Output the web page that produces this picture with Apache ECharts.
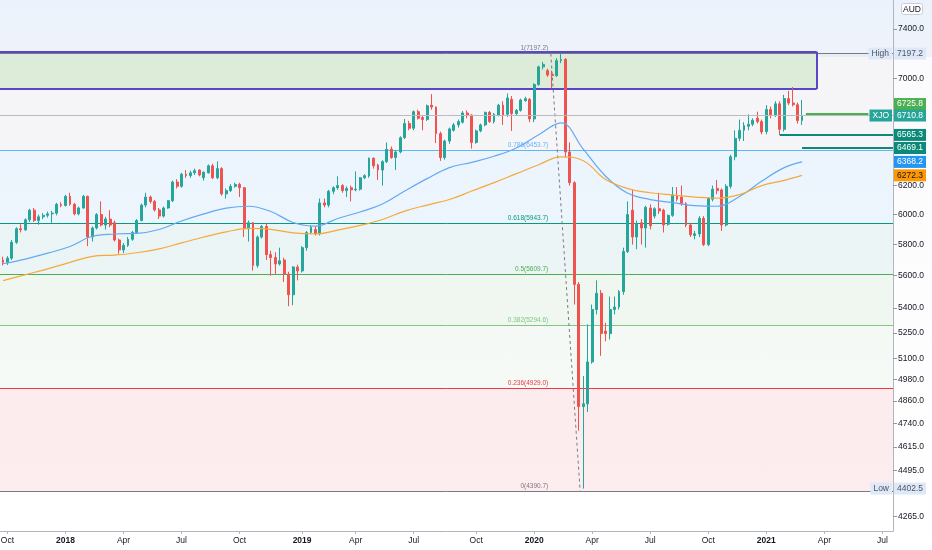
<!DOCTYPE html>
<html><head><meta charset="utf-8">
<script src="https://cdn.jsdelivr.net/npm/echarts@6.0.0/dist/echarts.min.js"></script>
<style>html,body{margin:0;padding:0;background:#fff;}#c{width:932px;height:550px;background:linear-gradient(to bottom,#ecf2fb 0px,#eef3fb 57px,#fbfbfd 57px,#ffffff 550px);}</style>
</head><body><div id="c"></div><script>
// ---- data (weekly XJO, AUD) ----
const firstWeek = '2017-09-25';
const weekOpen = [
5700,5685,5712,5815,5905,5898,5965,6030,5960,5985,
5995,6005,6010,6070,6062,6125,6070,6005,6045,6125,
5850,5910,6000,5930,5970,5945,5830,5765,5795,5835,
5880,5960,6065,6120,6090,6032,5990,6045,6095,6225,
6195,6280,6270,6290,6310,6255,6290,6340,6255,6320,
6142,6165,6195,6208,6185,5905,5945,5665,5850,5920,
5735,5716,5675,5700,5610,5480,5655,5630,5780,5880,
5900,5872,6080,6065,6160,6185,6200,6165,6185,6170,
6175,6255,6268,6395,6345,6310,6370,6460,6400,6440,
6545,6650,6615,6740,6695,6680,6790,6775,6575,6400,
6520,6600,6640,6660,6730,6715,6510,6595,6640,6735,
6665,6715,6790,6720,6835,6725,6750,6825,6835,6685,
6950,7090,7060,7030,7020,7140,7150,6440,6220,5545,
4830,4845,5080,5390,5490,5260,5245,5390,5405,5500,
5755,6030,5850,5945,5910,6045,5990,6040,6030,5935,
5995,6130,6120,6075,5930,5860,5870,5975,5800,6105,
6180,6170,5930,6195,6405,6540,6600,6630,6645,6690,
6665,6590,6757,6715,6800,6607,6840,6806,6793,6673];
const weekHigh = [
5722,5725,5830,5915,5935,5975,6040,6045,6000,6010,
6020,6025,6080,6085,6135,6150,6080,6055,6135,6130,
5920,6010,6090,5985,6030,5960,5840,5810,5850,5890,
5970,6075,6150,6130,6100,6045,6055,6100,6235,6245,
6290,6310,6305,6320,6315,6300,6350,6355,6372,6330,
6180,6210,6220,6220,6190,5960,5950,5860,5930,5945,
5760,5750,5780,5715,5625,5660,5670,5790,5890,5930,
5920,6110,6110,6170,6195,6265,6210,6195,6200,6300,
6260,6280,6400,6400,6355,6380,6510,6480,6455,6555,
6685,6670,6750,6755,6710,6795,6875,6780,6590,6530,
6620,6655,6680,6745,6750,6720,6605,6650,6740,6745,
6730,6800,6820,6880,6860,6760,6840,6855,6845,6960,
7100,7130,7075,7060,7160,7197.2,7160,6510,6230,5560,
5000,5300,5420,5570,5510,5310,5470,5470,5510,5780,
6090,6170,5960,5970,6060,6070,6050,6150,6040,6000,
6190,6190,6200,6085,5945,5890,5990,5990,6120,6200,
6240,6180,6210,6420,6600,6680,6660,6720,6690,6740,
6680,6790,6780,6820,6820,6870,6900,6930,6810,6830];
const weekLow = [
5665,5668,5700,5805,5880,5890,5950,5950,5932,5970,
5980,5945,5995,6050,6055,6060,5995,5995,6040,5790,
5820,5900,5920,5900,5915,5820,5740,5745,5785,5825,
5870,5955,6050,6075,6020,5970,5980,6040,6085,6180,
6185,6255,6255,6275,6265,6235,6285,6245,6245,6130,
6110,6155,6185,6120,5850,5820,5632,5650,5840,5700,
5600,5610,5665,5560,5410,5416,5570,5620,5760,5870,
5860,5860,6050,6050,6140,6170,6150,6120,6090,6160,
6165,6245,6255,6320,6240,6200,6360,6390,6310,6430,
6535,6600,6600,6680,6600,6670,6755,6505,6375,6385,
6500,6590,6620,6650,6690,6464,6500,6585,6630,6655,
6650,6705,6640,6700,6595,6715,6740,6815,6660,6660,
6940,7070,7010,6920,7010,7120,6400,6200,5420,4700,
4402.5,4800,5070,5360,5115,5200,5210,5360,5390,5480,
5745,5800,5770,5800,5780,5900,5975,6005,5880,5925,
5985,6090,6060,5915,5850,5835,5850,5790,5790,6090,
6140,5890,5920,6180,6380,6520,6520,6600,6630,6650,
6570,6570,6690,6700,6565.3,6590,6790,6780,6650,6640];
const weekClose = [
5685,5712,5815,5905,5898,5965,6030,5960,5985,5995,
6005,6010,6070,6062,6125,6070,6005,6045,6125,5850,
5910,6000,5930,5970,5930,5830,5765,5795,5835,5880,
5960,6065,6120,6090,6032,5990,6045,6095,6225,6195,
6280,6270,6290,6305,6275,6295,6340,6255,6320,6142,
6165,6195,6208,6185,5905,5945,5665,5850,5920,5735,
5716,5675,5695,5610,5480,5655,5630,5780,5880,5915,
5872,6080,6065,6160,6185,6200,6165,6180,6170,6175,
6255,6270,6395,6340,6310,6370,6460,6400,6440,6545,
6650,6615,6740,6690,6680,6785,6775,6575,6400,6520,
6610,6640,6665,6730,6715,6510,6595,6640,6735,6665,
6720,6790,6715,6845,6725,6750,6830,6840,6685,6950,
7090,7110,7025,7020,7140,7150,6440,6220,5545,4830,
4845,5080,5390,5490,5245,5245,5390,5405,5500,5755,
6000,5850,5940,5910,6050,5925,6040,6025,5930,5995,
6135,6105,6075,5930,5865,5872,5975,5800,6110,6175,
6165,5930,6195,6405,6540,6600,6635,6645,6675,6665,
6587,6757,6715,6800,6607,6841,6806,6793,6673,6710.8];

// moving averages at every 5th week
const maWeekIdx = [0,5,10,15,20,25,30,35,40,45,50,55,60,65,70,75,80,85,90,95,100,105,110,115,120,125,130,135,140,145,150,155,160,165,170,175,179];
const maBlue = [5676,5706,5744,5788,5855,5870,5874,5900,5957,6005,6044,6057,6021,5947,5922,5974,6018,6072,6162,6249,6327,6365,6409,6469,6567,6656,6460,6266,6146,6103,6082,6061,6057,6124,6232,6327,6368.2];
const maOrange = [5569,5606,5643,5685,5723,5732,5747,5772,5811,5850,5884,5907,5901,5877,5870,5896,5927,5967,6024,6065,6103,6162,6221,6284,6348,6405,6377,6242,6179,6150,6134,6120,6112,6137,6200,6237,6272.3];

// Fibonacci retracement
const fibLevels = ['1','0.786','0.618','0.5','0.382','0.236','0'];
const fibPrices = [7197.2,6453.7,5943.7,5609.7,5294.6,4929.0,4390.7];
const fibColors = ['#787b86','#64b5f6','#089981','#4caf50','#81c784','#f23645','#787b86'];
const fibZoneColors = ['rgba(120,123,134,0.045)','rgba(100,181,246,0.10)','rgba(8,153,129,0.075)','rgba(76,175,80,0.075)','rgba(129,199,132,0.07)','rgba(242,54,69,0.09)'];
const fibTrend = [['2020-02-01',7197.2],['2020-03-18',4390.7]];
const fibLabelDate = '2020-01-28';

// resistance box
const boxTop = 7213, boxBottom = 6914, boxEnd = '2021-03-24';

// horizontal levels
const lastPrice = 6710.8, prevLevel = 6725.8, supportA = 6565.3, supportB = 6469.1;
const highPrice = 7197.2, lowPrice = 4402.5;
const maBlueLast = 6368.2, maOrangeLast = 6272.3;

// axis ticks
const xTickDates = ['2017-10-02','2018-01-01','2018-04-02','2018-07-02','2018-10-01','2019-01-07','2019-04-01','2019-07-01','2019-10-07','2020-01-06','2020-04-06','2020-07-06','2020-10-05','2021-01-04','2021-04-05','2021-07-05'];
const xTickLabels = ['Oct','2018','Apr','Jul','Oct','2019','Apr','Jul','Oct','2020','Apr','Jul','Oct','2021','Apr','Jul'];
const yTicks = [7400,7000,6200,6000,5800,5600,5400,5250,5100,4980,4860,4740,4615,4495,4265];

// ---- build ----
const DAY = 864e5;
function utc(s){const p=s.split('-').map(Number);return Date.UTC(p[0],p[1]-1,p[2]);}
const T0 = utc(firstWeek);
const weekTimes = weekClose.map((_,i)=>T0+i*7*DAY);
const PX_DAY = 0.6377, T0_PX = 3;
const X_MIN = T0 - T0_PX/PX_DAY*DAY, X_MAX = T0 + (893-T0_PX)/PX_DAY*DAY;
const Y_MIN = 4196.5, Y_MAX = 7646.5;
const xTickTimes = xTickDates.map(utc);
const FONT = "'Liberation Sans Narrow','Arial Narrow','Liberation Sans',Arial,sans-serif";
const FS = 8.5;
const BOX_COLOR = '#5a46c8';

const candleData = weekClose.map((c,i)=>[weekTimes[i],weekOpen[i],c,weekLow[i],weekHigh[i]]);
const maSeries = vals => maWeekIdx.map((k,j)=>[weekTimes[k],vals[j]]);

const zoneAreas = fibZoneColors.map((col,k)=>[{yAxis:fibPrices[k],itemStyle:{color:col}},{yAxis:fibPrices[k+1]}]);
const boxArea = [{coord:[X_MIN,boxTop],itemStyle:{color:'#dcecd9',borderWidth:0}},{coord:[utc(boxEnd),boxBottom]}];
const boxEdge = {color:BOX_COLOR,width:2,type:'solid'};
const boxLines = [
  [{coord:[X_MIN,boxTop],lineStyle:boxEdge},{coord:[utc(boxEnd),boxTop]}],
  [{coord:[X_MIN,boxBottom],lineStyle:boxEdge},{coord:[utc(boxEnd),boxBottom]}],
  [{coord:[utc(boxEnd),boxTop],lineStyle:boxEdge},{coord:[utc(boxEnd),boxBottom]}]
];

function axisBox(value,text,bg,fg,side,offY){
  return {coord:[X_MAX,value],symbolSize:0,label:{show:true,position:side,distance:1,formatter:text,
    backgroundColor:bg,color:fg,fontSize:FS,fontFamily:FONT,lineHeight:9,padding:[2,3,1,3],offset:[0,offY||0]}};
}

const option = {
  animation:false,
  backgroundColor:'transparent',
  title:{text:'AUD',right:9,top:3,padding:[2,2,1,2],borderColor:'#c9ccd4',borderWidth:1,borderRadius:2,backgroundColor:'#ffffff',
    textStyle:{fontSize:FS,fontWeight:'normal',color:'#131722',fontFamily:FONT}},
  grid:{left:0,right:39,top:0,bottom:19,containLabel:false,outerBoundsMode:'none'},
  xAxis:{type:'value',min:X_MIN,max:X_MAX,scale:true,
    axisLine:{show:true,lineStyle:{color:'#b2b5be'}},
    axisTick:{show:true,customValues:xTickTimes,length:3,lineStyle:{color:'#b2b5be'}},
    axisLabel:{customValues:xTickTimes,color:'#131722',fontSize:FS,fontFamily:FONT,margin:5,
      formatter:function(v){let k=xTickTimes.findIndex(t=>Math.abs(t-v)<DAY);if(k<0)return '';const s=xTickLabels[k];return /^\d{4}$/.test(s)?'{y|'+s+'}':s;},
      rich:{y:{fontWeight:'bold',fontSize:FS,fontFamily:FONT,color:'#131722'}}},
    splitLine:{show:false}},
  yAxis:{type:'log',logBase:10,position:'right',min:Y_MIN,max:Y_MAX,
    axisLine:{show:true,lineStyle:{color:'#b2b5be'}},
    axisTick:{show:true,customValues:yTicks,length:4,lineStyle:{color:'#9598a1'}},
    axisLabel:{customValues:yTicks,formatter:v=>Number(v).toFixed(1),color:'#131722',fontSize:FS,fontFamily:FONT,margin:5},
    splitLine:{show:false}},
  series:[
    {type:'candlestick',name:'XJO',data:candleData,barWidth:2.4,z:3,
      itemStyle:{color:'#26a69a',color0:'#ef5350',borderColor:'#26a69a',borderColor0:'#ef5350',borderWidth:1},
      markArea:{silent:true,z:1,data:zoneAreas.concat([boxArea])}},
    {type:'line',name:'fib',data:[],silent:true,z:2,
      markLine:{silent:true,z:2,symbol:['none','none'],label:{show:false},
        data:fibPrices.map((p,k)=>({yAxis:p,lineStyle:{color:fibColors[k],width:1,type:'solid'}}))
          .concat([[{coord:[utc(fibTrend[0][0]),fibTrend[0][1]],lineStyle:{color:'#787b86',width:1,type:[3,3]}},{coord:[utc(fibTrend[1][0]),fibTrend[1][1]]}]])
          .concat(boxLines)},
      markPoint:{silent:true,z:4,symbolSize:0,
        data:fibPrices.map((p,k)=>({coord:[utc(fibLabelDate),p],symbolSize:0,label:{show:true,position:'left',distance:0,offset:[0,-5],
          formatter:fibLevels[k]+'('+p.toFixed(1)+')',color:fibColors[k],fontSize:6.5,fontFamily:FONT}}))}},
    {type:'line',name:'MA1',data:maSeries(maBlue),showSymbol:false,smooth:0.4,z:4,lineStyle:{color:'#64a9f4',width:1.2}},
    {type:'line',name:'MA2',data:maSeries(maOrange),showSymbol:false,smooth:0.4,z:4,lineStyle:{color:'#f6a93b',width:1.2}},
    {type:'line',name:'levels',data:[],silent:true,z:5,
      markLine:{silent:true,z:5,symbol:['none','none'],label:{show:false},
        data:[
          {yAxis:lastPrice,lineStyle:{color:'#b8bbc4',width:1,type:'solid'}},
          [{coord:[weekTimes[174],supportA],lineStyle:{color:'#0b8a7a',width:2,type:'solid'}},{coord:[X_MAX,supportA]}],
          [{coord:[weekTimes[179],supportB],lineStyle:{color:'#0b8a7a',width:2,type:'solid'}},{coord:[X_MAX,supportB]}],
          [{coord:[utc('2021-03-07'),prevLevel],lineStyle:{color:'#4caf50',width:2,type:'solid'}},{coord:[utc('2021-06-13'),prevLevel]}]
        ]},
      markPoint:{silent:true,z:8,symbolSize:0,
        data:[
          axisBox(highPrice,'High','#dde9f8','#50535e','left'),
          axisBox(highPrice,highPrice.toFixed(1),'#dde9f8','#50535e','right'),
          axisBox(lowPrice,'Low','#dde9f8','#50535e','left'),
          axisBox(lowPrice,lowPrice.toFixed(1),'#dde9f8','#50535e','right'),
          axisBox(prevLevel,prevLevel.toFixed(1),'#4caf50','#ffffff','right',-9.5),
          axisBox(lastPrice,'XJO','#26a69a','#ffffff','left'),
          axisBox(lastPrice,lastPrice.toFixed(1),'#26a69a','#ffffff','right'),
          axisBox(supportA,supportA.toFixed(1),'#0b8a7a','#ffffff','right'),
          axisBox(supportB,supportB.toFixed(1),'#0b8a7a','#ffffff','right'),
          axisBox(maBlueLast,maBlueLast.toFixed(1),'#2196f3','#ffffff','right'),
          axisBox(maOrangeLast,maOrangeLast.toFixed(1),'#ff9800','#131722','right')
        ]}}
  ]
};
const chart = echarts.init(document.getElementById('c'),null,{renderer:'canvas'});
chart.setOption(option);
</script></body></html>
